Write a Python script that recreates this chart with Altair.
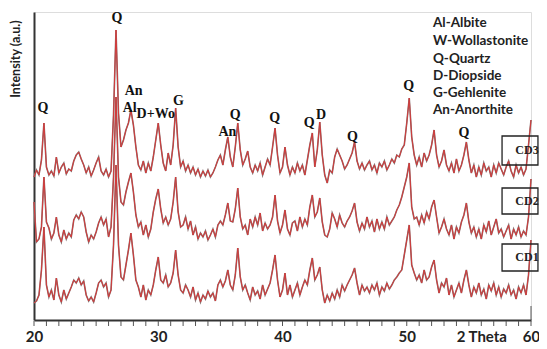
import altair as alt
import pandas as pd

# 2-theta sampling grid (degrees)
theta = [round(20 + 0.2 * i, 1) for i in range(201)]

cd3 = [8, 15, 10, 25, 62, 18, 10, 14, 9, 28, 12, 18, 22, 11, 16, 14, 24, 30, 33, 26,
       20, 12, 18, 9, 15, 22, 28, 14, 10, 16, 8, 14, 70, 155, 72, 38, 45, 55, 62, 75,
       60, 38, 20, 15, 24, 12, 22, 14, 28, 45, 62, 40, 22, 14, 32, 20, 40, 77, 38, 18,
       24, 14, 20, 12, 18, 10, 16, 8, 14, 9, 15, 8, 12, 18, 25, 30, 20, 35, 48, 28,
       18, 38, 62, 35, 20, 26, 34, 18, 12, 20, 14, 22, 10, 18, 26, 20, 38, 57, 30, 12,
       18, 38, 20, 10, 18, 12, 22, 14, 20, 10, 25, 40, 52, 18, 35, 63, 30, 10, 2, 15,
       12, 28, 36, 30, 24, 16, 20, 26, 32, 43, 24, 16, 22, 15, 20, 24, 15, 20, 12, 22,
       18, 24, 15, 20, 26, 22, 30, 28, 36, 40, 62, 87, 48, 30, 20, 28, 18, 32, 24, 30,
       40, 55, 30, 18, 24, 35, 20, 14, 22, 12, 26, 14, 20, 30, 43, 25, 12, 20, 8, 18,
       10, 22, 14, 18, 8, 20, 12, 22, 16, 10, 18, 24, 14, 8, 20, 12, 18, 10, 16, 40,
       65]

cd2 = [45, 5, 8, 20, 70, 25, 19, 8, 14, 30, 12, 5, 17, 8, 14, 10, 27, 32, 28, 35,
       30, 15, 5, 12, 8, 15, 24, 30, 22, 28, 10, 20, 70, 150, 70, 45, 42, 55, 65, 74,
       55, 32, 20, 25, 12, 22, 10, 18, 35, 48, 58, 38, 24, 30, 22, 28, 45, 70, 35, 20,
       22, 30, 18, 26, 12, 20, 8, 14, 10, 16, 7, 12, 18, 10, 22, 26, 22, 32, 44, 26,
       25, 38, 59, 30, 18, 22, 12, 28, 20, 30, 22, 34, 16, 24, 18, 22, 30, 52, 26, 14,
       22, 37, 18, 12, 24, 26, 16, 30, 20, 28, 22, 40, 52, 30, 35, 49, 25, 12, 10, 18,
       34, 28, 20, 32, 24, 20, 26, 30, 36, 44, 25, 16, 24, 18, 30, 20, 26, 15, 28, 18,
       25, 18, 30, 22, 26, 30, 37, 42, 50, 60, 70, 84, 40, 28, 30, 22, 32, 24, 35, 28,
       40, 47, 30, 14, 20, 28, 18, 12, 22, 8, 20, 14, 25, 32, 44, 25, 14, 20, 10, 18,
       8, 22, 15, 26, 12, 20, 28, 14, 18, 10, 16, 22, 8, 18, 12, 20, 10, 16, 12, 30,
       68]

cd1 = [2, 4, 10, 35, 78, 20, 8, 15, 5, 27, 10, 3, 15, 6, 12, 18, 25, 22, 27, 20,
       24, 10, 4, 8, 3, 12, 22, 25, 18, 22, 8, 15, 60, 140, 60, 28, 25, 40, 55, 72,
       50, 25, 18, 8, 20, 5, 15, 10, 20, 35, 48, 25, 22, 30, 18, 22, 32, 55, 30, 15,
       12, 20, 15, 8, 18, 5, 12, 3, 10, 6, 14, 8, 12, 4, 20, 25, 18, 24, 35, 20,
       15, 30, 57, 28, 15, 20, 12, 5, 18, 10, 14, 6, 20, 10, 16, 22, 35, 50, 25, 8,
       15, 32, 10, 20, 8, 15, 22, 10, 18, 25, 20, 35, 47, 25, 30, 38, 15, 2, 10, 4,
       12, 6, 15, 8, 20, 14, 20, 25, 30, 37, 22, 10, 20, 14, 18, 12, 20, 15, 22, 10,
       18, 14, 22, 16, 20, 25, 28, 32, 35, 50, 65, 80, 40, 32, 25, 30, 22, 35, 25, 28,
       38, 45, 25, 12, 22, 18, 27, 10, 20, 8, 15, 22, 12, 25, 35, 20, 8, 18, 12, 22,
       10, 16, 6, 20, 14, 22, 10, 18, 8, 16, 12, 20, 10, 15, 6, 18, 12, 20, 10, 30,
       65]

samples = ["CD1", "CD2", "CD3"]
offsets = [15, 73, 135]

tick_values = list(range(20, 61))
label_values = [20, 30, 40, 50, 56, 60]

peak_text = ["Q", "Q", "An", "Al", "D+Wo", "G", "An", "Q", "Q", "Q", "D", "Q", "Q", "Q"]
peak_theta = [20.71, 26.67, 28.02, 27.70, 29.80, 31.62, 35.56, 36.19, 39.37, 42.14, 43.10, 45.63, 50.16, 54.60]
peak_level = [212, 302, 229, 212, 206, 219, 188, 205, 202, 197, 205, 183, 234, 187]

phase_key = ["Al-Albite", "W-Wollastonite", "Q-Quartz", "D-Diopside", "G-Gehlenite", "An-Anorthite"]

rows = []
for name, off, vals in zip(samples, offsets, [cd1, cd2, cd3]):
    for t, v in zip(theta, vals):
        rows.append({"theta": t, "y": v + off, "sample": name})
df = pd.DataFrame(rows)

xscale = alt.Scale(domain=[20, 60], nice=False, zero=False)
yscale = alt.Scale(domain=[0, 308], nice=False, zero=False)

xaxis = alt.Axis(
    values=label_values,
    labelExpr="datum.value == 56 ? '2 Theta' : datum.label",
    title=None, grid=False, ticks=False,
    domainColor="#333", domainWidth=2, labelFont="Lato", labelFontWeight="bold",
    labelFontSize=15, labelColor="#222", labelPadding=9, labelOverlap=False,
    labelFlush=False,
)
yaxis = alt.Axis(title=None, labels=False, ticks=False, grid=False,
                 domainColor="#333", domainWidth=2)

base = alt.Chart(df)
under = base.mark_line(color="#8a7070", strokeWidth=1.6).encode(
    x=alt.X("theta:Q", scale=xscale, axis=xaxis),
    y=alt.Y("y:Q", scale=yscale, axis=yaxis),
    detail="sample:N",
)
over = base.mark_line(color="#d23b3b", strokeWidth=1.0).encode(
    x=alt.X("theta:Q", scale=xscale),
    y=alt.Y("y:Q", scale=yscale),
    detail="sample:N",
)

ticks = alt.Chart(pd.DataFrame({"v": tick_values})).mark_rule(
    color="#555", strokeWidth=1).encode(
    x=alt.X("v:Q", scale=xscale), y=alt.value(309), y2=alt.value(314))

peaks_df = pd.DataFrame({"t": peak_text, "x": peak_theta, "y": peak_level})
peaks = alt.Chart(peaks_df).mark_text(
    font="Liberation Serif", fontWeight="bold", fontSize=14, color="#111",
    baseline="middle", align="center"
).encode(x=alt.X("x:Q", scale=xscale), y=alt.Y("y:Q", scale=yscale), text="t:N")

key_df = pd.DataFrame({"t": phase_key, "x": [52.11] * 6, "y": [297, 279, 261, 244, 227, 210]})
key = alt.Chart(key_df).mark_text(
    font="Lato", fontWeight="bold", fontSize=13.5, color="#222",
    baseline="middle", align="left"
).encode(x=alt.X("x:Q", scale=xscale), y=alt.Y("y:Q", scale=yscale), text="t:N")

box_df = pd.DataFrame({"t": ["CD3", "CD2", "CD1"], "x": [57.67] * 3, "x2": [60.56] * 3,
                       "y": [184, 132, 76], "y2": [155, 106, 49], "ty": [170, 119, 63],
                       "tx": [59.68] * 3})
boxes = alt.Chart(box_df).mark_rect(fillOpacity=0, stroke="#222", strokeWidth=1.3).encode(
    x=alt.X("x:Q", scale=xscale), x2="x2:Q",
    y=alt.Y("y:Q", scale=yscale), y2="y2:Q")
box_text = alt.Chart(box_df).mark_text(
    font="Liberation Serif", fontWeight="bold", fontSize=12, color="#222",
    baseline="middle", align="center"
).encode(x=alt.X("tx:Q", scale=xscale), y=alt.Y("ty:Q", scale=yscale), text="t:N")

ytitle = alt.Chart(pd.DataFrame({"t": ["Intensity (a.u.)"], "x": [18.58], "y": [261]})).mark_text(
    font="Lato", fontWeight="bold", fontSize=12.5, color="#222", angle=270,
    baseline="middle", align="center"
).encode(x=alt.X("x:Q", scale=xscale), y=alt.Y("y:Q", scale=yscale), text="t:N")

stub = alt.Chart(pd.DataFrame({"x": [60], "y": [0], "y2": [14]})).mark_rule(
    color="#555", strokeWidth=1).encode(
    x=alt.X("x:Q", scale=xscale), y=alt.Y("y:Q", scale=yscale), y2="y2:Q")

chart = alt.layer(under, over, ticks, peaks, key, boxes, box_text, ytitle, stub).properties(
    width=497, height=308,
    autosize=alt.AutoSizeParams(type="none"),
    padding={"left": 26, "top": 4, "right": 8, "bottom": 29},
).configure_view(stroke=None).configure(background="white")

chart.save("out.html", embed_options={"renderer": "svg", "actions": False})
